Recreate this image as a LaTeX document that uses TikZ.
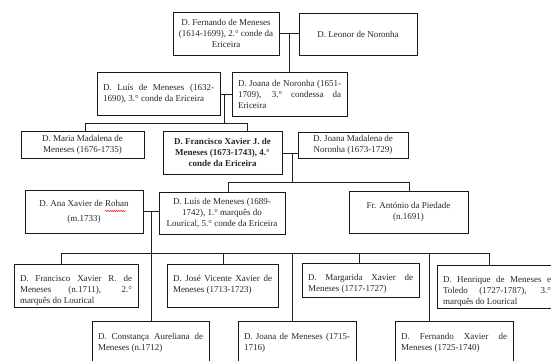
\documentclass[tikz,border=0pt]{standalone}
\usepackage{fontspec}
\setmainfont{Liberation Serif}
\usetikzlibrary{decorations.pathmorphing}
\newcommand\J[1]{\makebox[\linewidth][s]{#1}}
% name, x1, y1, x2, y2, inner pos, pad, extra style, content
\newcommand\pbx[9]{\node[boxsty,inner xsep=#7pt,#8,anchor=north west] (#1) at (#2,#3)
  {\parbox[t][\dimexpr #5pt-#3pt\relax][#6]{\dimexpr #4pt-#2pt-#7pt-#7pt\relax}{#9}};}
\tikzset{
  boxsty/.style={draw=black!90, line width=1pt, inner ysep=0pt, outer sep=0pt,
    font=\fontsize{9}{11}\selectfont, text=black!85},
  conn/.style={draw=black!88, line width=0.85pt}
}
\begin{document}
\begin{tikzpicture}[x=1pt,y=-1pt]
\useasboundingbox (0,0) rectangle (551,360);
\clip (0,0) rectangle (551,360);
% row 1
\pbx{fern}{173}{12}{279}{55}{c}{3}{}{\centering D. Fernando de Meneses\\(1614-1699), 2.° conde da\\Ericeira\par}
\pbx{leonor}{299}{13}{417}{55}{c}{4}{}{\centering D. Leonor de Noronha\par}
% row 2
\pbx{luis1}{97}{72}{220}{115}{c}{6}{}{\J{D. Luís de Meneses (1632-}\\1690), 3.° conde da Ericeira\par}
\pbx{joana1}{232}{72}{347}{116}{c}{6}{}{\J{D. Joana de Noronha (1651-}\\\J{1709), 3.° condessa da}\\Ericeira\par}
% row 3
\pbx{maria}{21}{131}{144}{158}{c}{4}{}{\centering D. Maria Madalena de\\Meneses (1676-1735)\par}
\pbx{franc}{163}{131}{282}{174}{c}{3}{}{\centering\bfseries D. Francisco Xavier J. de\\Meneses (1673-1743), 4.°\\conde da Ericeira\par}
\pbx{joanam}{298}{132}{408}{158}{c}{4}{}{\centering D. Joana Madalena de\\Noronha (1673-1729)\par}
% row 4
\pbx{ana}{25}{190}{143}{233}{c}{4}{}{\centering D. Ana Xavier de Rohan\\[4pt](m.1733)\par}
\pbx{luis2}{159}{192}{285}{234}{c}{1}{}{\centering D. Luís de Meneses (1689-\\1742), 1.° marquês do\\Lourical, 5.° conde da Ericeira\par}
\pbx{antonio}{349}{191}{468}{233}{c}{4}{}{\centering Fr. António da Piedade\\(n.1691)\par}
% row 5
\pbx{fxr}{14}{264}{138}{307}{t}{6}{}{\vspace*{11pt}\J{D. Francisco Xavier R. de}\\\J{Meneses (n.1711), 2.°}\\marquês do Lourical\par}
\pbx{jose}{167}{264}{278}{307}{t}{6}{}{\vspace*{11pt}\J{D. José Vicente Xavier de}\\Meneses (1713-1723)\par}
\pbx{marg}{302}{263}{419}{297}{t}{6}{}{\vspace*{11pt}\J{D. Margarida Xavier de}\\Meneses (1717-1727)\par}
\pbx{henr}{437}{265}{557}{308}{t}{6}{}{\vspace*{11pt}\J{D. Henrique de Meneses e}\\\J{Toledo (1727-1787), 3.°}\\marquês do Lourical\par}
% row 6
\pbx{cons}{92}{321}{209}{372}{t}{6}{}{\vspace*{12pt}\J{D. Constança Aureliana de}\\Meneses (n.1712)\par}
\pbx{joana2}{238}{321}{356}{372}{t}{6}{}{\vspace*{12pt}\J{D. Joana de Meneses (1715-}\\1716)\par}
\pbx{fernx}{395}{321}{513}{372}{t}{6}{}{\vspace*{12pt}\J{D. Fernando Xavier de}\\Meneses (1725-1740)\par}
% spell-check squiggle
\draw[red, line width=0.5pt, decorate, decoration={snake, amplitude=0.6pt, segment length=2.2pt}] (105,211) -- (126,211);
% connectors
\coordinate (c1) at (289,33);
\draw[conn] (c1 -| fern.east) -- (c1 -| leonor.west);
\draw[conn] (c1) -- (c1 |- joana1.north);
\coordinate (c2) at (224,94);
\coordinate (h2) at (224,123);
\coordinate (m1) at (85,123);
\coordinate (m2) at (247,123);
\draw[conn] (c2 -| luis1.east) -- (c2 -| joana1.west);
\draw[conn] (c2) -- (h2);
\draw[conn] (m1 |- maria.north) -- (m1) -- (m2) -- (m2 |- franc.north);
\coordinate (c3) at (292,153);
\coordinate (k1) at (228,182);
\coordinate (k2) at (409,182);
\draw[conn] (c3 -| franc.east) -- (c3 -| joanam.west);
\draw[conn] (c3) -- (c3 |- k1);
\draw[conn] (k1 |- luis2.north) -- (k1) -- (k2) -- (k2 |- antonio.north);
\coordinate (c4) at (151,211);
\draw[conn] (c4 -| ana.east) -- (c4 -| luis2.west);
\draw[conn] (c4) -- (c4 |- cons.north);
\coordinate (r1) at (61,253);
\coordinate (r2) at (223,253);
\coordinate (r3) at (292,253);
\coordinate (r4) at (359,253);
\coordinate (r5) at (429,253);
\coordinate (r6) at (489,253);
\draw[conn] (r1 |- fxr.north) -- (r1) -- (r6) -- (r6 |- henr.north);
\draw[conn] (r2) -- (r2 |- jose.north);
\draw[conn] (r3) -- (r3 |- joana2.north);
\draw[conn] (r4) -- (r4 |- marg.north);
\draw[conn] (r5) -- (r5 |- fernx.north);
\end{tikzpicture}
\end{document}
